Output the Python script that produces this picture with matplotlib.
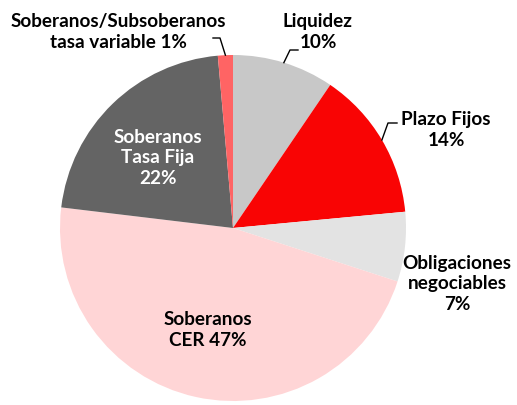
import matplotlib
matplotlib.use("Agg")
import matplotlib.pyplot as plt
import numpy as np

categories = ["Liquidez", "Plazo Fijos", "Obligaciones negociables",
              "Soberanos CER", "Soberanos Tasa Fija",
              "Soberanos/Subsoberanos tasa variable"]
values = [9.5, 14.0, 6.5, 46.9, 21.7, 1.4]
pct_labels = ["10%", "14%", "7%", "47%", "22%", "1%"]
colors = ["#C8C8C8", "#F90404", "#E3E3E3", "#FFD5D6", "#646464", "#FF6464"]

FONT = ["Lato", "DejaVu Sans"]
FS = 13.6

W, H = 517, 405
fig = plt.figure(figsize=(W / 100, H / 100), dpi=100)
ax = fig.add_axes([0, 0, 1, 1])

cx, cy, R = 233, H - 228, 173
wedges, _ = ax.pie(values, colors=colors, startangle=90, counterclock=False,
                   center=(cx, cy), radius=R,
                   wedgeprops=dict(linewidth=0))
ax.set_xlim(0, W)
ax.set_ylim(0, H)
ax.set_aspect("auto")
ax.axis("off")


def edge_point(w):
    ang = np.deg2rad((w.theta1 + w.theta2) / 2)
    return cx + R * np.cos(ang), cy + R * np.sin(ang)


def txt(x, y, s, color="black"):
    ax.text(x, H - y, s, ha="center", va="center", fontsize=FS,
            fontweight="bold", family=FONT, color=color, linespacing=1.22)


# outside labels with leader lines
txt(118, 32, "Soberanos/Subsoberanos\ntasa variable " + pct_labels[5])
ex, ey = edge_point(wedges[5])
ax.plot([213, 220, ex], [H - 38, H - 38, ey], color="black", lw=1)

txt(318, 32, "Liquidez\n" + pct_labels[0])
ex, ey = edge_point(wedges[0])
ax.plot([298, 290, ex], [H - 50, H - 50, ey], color="black", lw=1)

txt(446, 130, "Plazo Fijos\n" + pct_labels[1])
ex, ey = edge_point(wedges[1])
ax.plot([397, 388, ex], [H - 123, H - 123, ey], color="black", lw=1)

txt(457, 284, "Obligaciones\nnegociables\n" + pct_labels[2])

# inside labels
txt(208, 330, "Soberanos\nCER " + pct_labels[3])
txt(158, 158, "Soberanos\nTasa Fija\n" + pct_labels[4], color="white")

fig.savefig("out.png", dpi=100)
